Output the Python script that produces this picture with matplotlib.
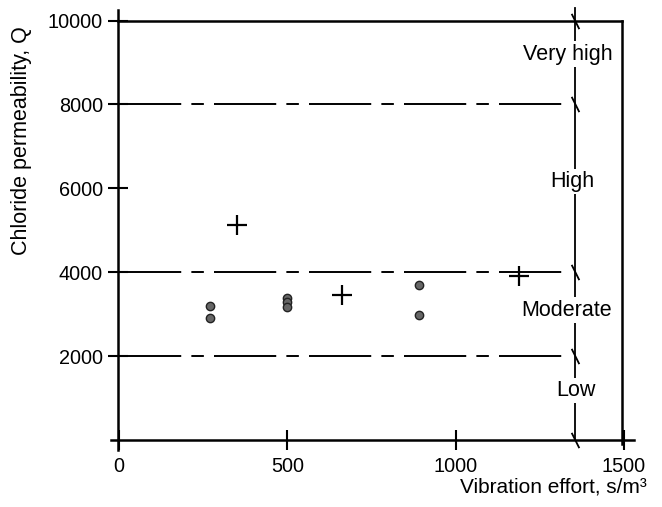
import matplotlib
matplotlib.use("Agg")
import matplotlib.pyplot as plt
from matplotlib.path import Path

plt.rcParams['font.family'] = ['Liberation Sans', 'DejaVu Sans']
plt.rcParams['lines.scale_dashes'] = False

# ---- data ----
circle_x = [270, 270, 498, 498, 498, 890, 890]
circle_y = [3190, 2900, 3380, 3280, 3180, 3690, 2990]
cross_x = [349, 662, 1187]
cross_y = [5130, 3450, 3900]

boundaries = [2000, 4000, 8000]
break_levels = [0, 2000, 4000, 8000, 10000]
class_labels = ["Low", "Moderate", "High", "Very high"]

x_ticks = [0, 500, 1000, 1500]
y_ticks = [2000, 4000, 6000, 8000, 10000]
x_title = "Vibration effort, s/m³"
y_title = "Chloride permeability, Q"

# ---- layout ----
label_pos = [(1357, 1180, 'center'), (1464, 3100, 'right'),
             (1347, 6170, 'center'), (1467, 9200, 'right')]
class_x = 1355
frame_right = 1495

fig = plt.figure(figsize=(6.62, 5.07), dpi=100)
ax = fig.add_axes([0.1598, 0.0824, 0.8133, 0.9168])
ax.set_xlim(-40, 1560)
ax.set_ylim(-600, 10480)

for s in ['top', 'right']:
    ax.spines[s].set_visible(False)
ax.spines['left'].set_position(('data', -5))
ax.spines['left'].set_bounds(-240, 10250)
ax.spines['bottom'].set_position(('data', 0))
ax.spines['bottom'].set_bounds(-25, 1530)
for s in ['left', 'bottom']:
    ax.spines[s].set_linewidth(1.8)

# frame top/right
ax.plot([-5, frame_right], [10000, 10000], color='black', lw=1.8, clip_on=False)
ax.plot([frame_right, frame_right], [-100, 10000], color='black', lw=1.8, clip_on=False)

ax.set_xticks(x_ticks)
ax.set_xticklabels([str(v) for v in x_ticks])
ax.set_yticks(y_ticks)
ax.set_yticklabels([str(v) for v in y_ticks])
ax.tick_params(axis='both', direction='inout', length=14, width=1.5, labelsize=14.3)
ax.tick_params(axis='y', pad=3.5)
ax.tick_params(axis='x', pad=5)

# dashed boundary lines
for b in boundaries:
    ax.plot([0, 1320], [b, b], color='black', lw=1.4,
            linestyle=(0, (44.8, 7.3, 9, 7.3)))

# vertical class line
ax.plot([class_x, class_x], [0, 10300], color='black', lw=1.3, clip_on=False)
slash = Path([(-0.5, 1.0), (0.5, -1.0)], [Path.MOVETO, Path.LINETO])
ax.plot([class_x] * len(break_levels), break_levels, linestyle='none',
        marker=slash, markersize=11, mew=1.3, color='black', clip_on=False)

for txt, (lx, ly, ha) in zip(class_labels, label_pos):
    ax.text(lx, ly, txt, ha=ha, va='center', fontsize=15.5,
            bbox=dict(facecolor='white', edgecolor='none', pad=1.5))

# data points
ax.plot(circle_x, circle_y, linestyle='none', marker='o', markersize=6,
        mfc='#666666', mec='#222222', mew=1)
ax.plot(cross_x, cross_y, linestyle='none', marker='+', markersize=14,
        mew=1.6, color='black')

fig.text(22 / 662, 1 - 141 / 507, y_title, rotation=90, ha='center',
         va='center', fontsize=15.5)
fig.text(647 / 662, 1 - 487 / 507, x_title, ha='right', va='center',
         fontsize=15)

fig.savefig('out.png', dpi=100)
